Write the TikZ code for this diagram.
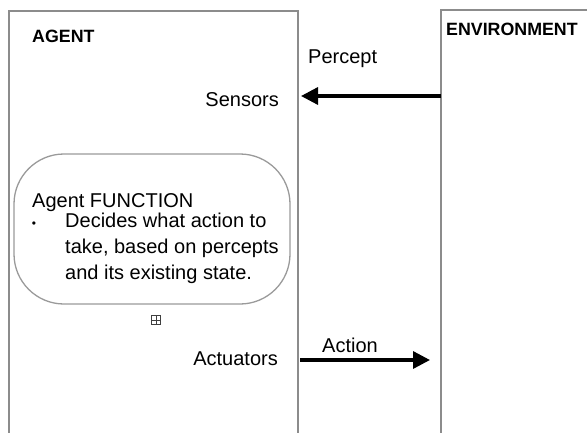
\documentclass[tikz,border=0pt]{standalone}
\usepackage{fontspec}
\setmainfont{Liberation Sans}
\usetikzlibrary{arrows.meta}
\definecolor{boxgray}{HTML}{8C8C8C}
\definecolor{roundgray}{HTML}{9A9A9A}
\begin{document}
\begin{tikzpicture}[x=1pt,y=-1pt,
  frame/.style={draw=boxgray,line width=1.6pt},
  lbl/.style={anchor=base west,inner sep=0pt,font=\fontsize{20}{24}\selectfont},
  blbl/.style={anchor=base west,inner sep=0pt,font=\fontsize{17.8}{21}\selectfont\bfseries},
  arr/.style={line width=3.3pt,-{Triangle[length=17pt,width=17pt]}},
]
\useasboundingbox (0,0) rectangle (587,432);
% agent frame
\draw[frame] (9,445) -- (9,11) -- (298,11) -- (298,445);
% environment frame
\draw[frame] (441,445) -- (441,10) -- (600,10);
\node[blbl] (agent) at (32,42) {AGENT};
\node[blbl] (env) at (446,35) {ENVIRONMENT};
\node[lbl] (percept) at (308,63) {Percept};
\node[lbl,anchor=base east] (sensors) at (279,106) {Sensors};
\node[lbl,anchor=base east] (actuators) at (278,365) {Actuators};
\node[lbl] (action) at (322,352) {Action};
% agent function
\node[draw=roundgray,line width=1.3pt,rounded corners=50pt,minimum width=276pt,minimum height=150pt,inner sep=0pt] (func) at (152,229) {};
\node[lbl] (ftitle) at (32,207) {Agent FUNCTION};
\node[anchor=center,inner sep=0pt,font=\fontsize{12}{12}\selectfont] (bullet) at (34,225) {•};
\node[lbl,align=left,anchor=north west,font=\fontsize{20}{25.8}\selectfont] (fbody) at (65,213)
  {Decides what action to\\take, based on percepts\\and its existing state.};
% small anchor mark
\node[draw=black!75,line width=0.6pt,minimum size=8.5pt,inner sep=0pt] (mark) at (156,320) {};
\draw[black!75,line width=0.6pt] (mark.north) -- (mark.south) (mark.west) -- (mark.east);
% arrows
\coordinate (envP) at (441,96);
\coordinate (agP) at (301,96);
\coordinate (agA) at (300,360);
\coordinate (envA) at (430,360);
\draw[arr] (envP) -- (agP);
\draw[arr] (agA) -- (envA);
\end{tikzpicture}
\end{document}
